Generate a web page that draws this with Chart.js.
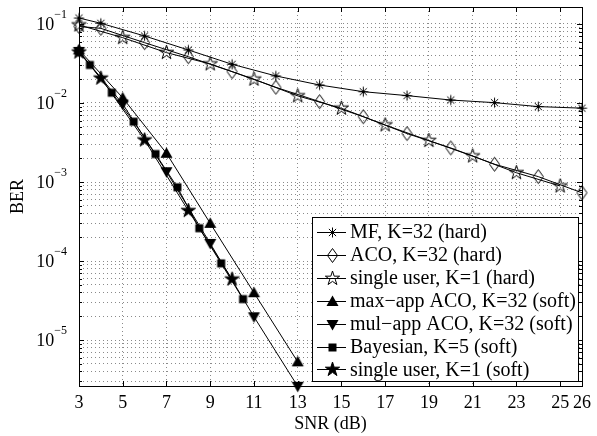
<!DOCTYPE html>
<html><head><meta charset="utf-8">
<script src="https://cdn.jsdelivr.net/npm/chart.js@4/dist/chart.umd.min.js"></script>
<style>html,body{margin:0;padding:0;background:#fff}#wrap{width:597px;height:436px}</style>
</head><body><div id="wrap"><canvas id="c" width="597" height="436"></canvas></div>
<script>
// ---- data ----
const xTicks = [3,5,7,9,11,13,15,17,19,21,23,25,26];
const yDecades = [-5,-4,-3,-2,-1];

const mfSnr = [3,4,6,8,10,12,14,16,18,20,22,24,26];
const mfBer = [0.119,0.102,0.0705,0.0469,0.0309,0.0220,0.0169,0.0139,0.0124,0.0109,0.0101,0.0090,0.0086];

const acoSnr = [3,4,6,8,10,12,14,16,18,20,22,24,26];
const acoBer = [0.093,0.088,0.058,0.0385,0.0249,0.0158,0.0104,0.0067,0.0041,0.0027,0.00168,0.00117,0.00073];

const suHardSnr = [3,5,7,9,11,13,15,17,19,21,23,25];
const suHardBer = [0.097,0.0671,0.0434,0.0312,0.0200,0.0123,0.00857,0.00527,0.00334,0.00213,0.00131,0.00089];

const maxAppSnr = [3,5,7,9,11,13];
const maxAppBer = [0.047,0.0116,0.00231,0.00030,3.97e-5,5.3e-6];

const mulAppSnr = [3,5,7,9,11,13];
const mulAppBer = [0.045,0.0097,0.00135,1.67e-4,1.97e-5,2.6e-6];

const bayesSnr = [3,3.5,4.5,5.5,6.5,7.5,8.5,9.5,10.5];
const bayesBer = [0.045,0.0303,0.0135,0.0058,0.00226,8.57e-4,2.6e-4,9.35e-5,3.3e-5];

const suSoftSnr = [3,4,6,8,10];
const suSoftBer = [0.044,0.0206,0.0034,4.34e-4,5.9e-5];

const seriesLabels = [
  'MF, K=32 (hard)',
  'ACO, K=32 (hard)',
  'single user, K=1 (hard)',
  'max\u2212app ACO, K=32 (soft)',
  'mul\u2212app ACO, K=32 (soft)',
  'Bayesian, K=5 (soft)',
  'single user, K=1 (soft)'
];

// ---- marker glyphs ----
function makeMarker(kind) {
  const s = 17, c = 8.5;
  const cv = document.createElement('canvas');
  cv.width = s; cv.height = s;
  const g = cv.getContext('2d');
  g.translate(c, c);
  g.strokeStyle = '#000'; g.fillStyle = '#000'; g.lineWidth = 1;
  g.beginPath();
  const star = (R) => {
    for (let i = 0; i < 10; i++) {
      const a = -Math.PI / 2 + i * Math.PI / 5;
      const r = i % 2 === 0 ? R : R * 0.382;
      const px = r * Math.cos(a), py = r * Math.sin(a);
      if (i === 0) g.moveTo(px, py); else g.lineTo(px, py);
    }
    g.closePath();
  };
  switch (kind) {
    case 'asterisk':
      g.moveTo(-5, 0); g.lineTo(5, 0);
      g.moveTo(0, -5); g.lineTo(0, 5);
      g.moveTo(-3.6, -3.6); g.lineTo(3.6, 3.6);
      g.moveTo(-3.6, 3.6); g.lineTo(3.6, -3.6);
      g.stroke(); break;
    case 'diamond':
      g.moveTo(0, -7); g.lineTo(5, 0); g.lineTo(0, 7); g.lineTo(-5, 0); g.closePath();
      g.stroke(); break;
    case 'pentagram':
      star(7.5); g.stroke(); break;
    case 'pentagramFilled':
      star(7.5); g.fill(); g.stroke(); break;
    case 'triUp':
      g.moveTo(0, -6); g.lineTo(6, 4.5); g.lineTo(-6, 4.5); g.closePath(); g.fill(); break;
    case 'triDown':
      g.moveTo(0, 6); g.lineTo(6, -4.5); g.lineTo(-6, -4.5); g.closePath(); g.fill(); break;
    case 'square':
      g.rect(-4, -4, 8, 8); g.fill(); break;
  }
  return cv;
}

const seriesDefs = [
  [mfSnr, mfBer, 'asterisk'],
  [acoSnr, acoBer, 'diamond'],
  [suHardSnr, suHardBer, 'pentagram'],
  [maxAppSnr, maxAppBer, 'triUp'],
  [mulAppSnr, mulAppBer, 'triDown'],
  [bayesSnr, bayesBer, 'square'],
  [suSoftSnr, suSoftBer, 'pentagramFilled']
];

const datasets = seriesDefs.map((d, i) => ({
  label: seriesLabels[i],
  data: d[0].map((v, j) => ({ x: v, y: d[1][j] })),
  borderColor: '#000',
  borderWidth: 1,
  pointStyle: makeMarker(d[2]),
  pointRadius: 6,
  pointBackgroundColor: '#000',
  pointBorderColor: '#000',
  tension: 0,
  fill: false,
  clip: false
}));

const FONT = '"Liberation Serif", "Times New Roman", serif';

// frame + inward ticks
const framePlugin = {
  id: 'frame',
  afterDatasetsDraw(chart) {
    const { ctx, chartArea: a, scales: { x, y } } = chart;
    const L = Math.round(a.left), R = Math.round(a.right), T = Math.round(a.top), B = Math.round(a.bottom);
    ctx.save();
    ctx.strokeStyle = '#000'; ctx.lineWidth = 1;
    ctx.beginPath();
    xTicks.forEach(v => {
      const px = Math.round(x.getPixelForValue(v)) + 0.5;
      ctx.moveTo(px, B); ctx.lineTo(px, B - 5);
      ctx.moveTo(px, T); ctx.lineTo(px, T + 5);
    });
    y.ticks.forEach(t => {
      const py = Math.round(y.getPixelForValue(t.value)) + 0.5;
      const m = Math.round(t.value / Math.pow(10, Math.floor(Math.log10(t.value) + 1e-9)));
      const len = m === 1 ? 5 : 3;
      ctx.moveTo(L, py); ctx.lineTo(L + len, py);
      ctx.moveTo(R, py); ctx.lineTo(R - len, py);
    });
    ctx.stroke();
    ctx.strokeRect(L + 0.5, T + 0.5, R - L, B - T);
    ctx.restore();
  }
};

// y tick labels with superscript exponents
const yLabelPlugin = {
  id: 'ylabels',
  afterDraw(chart) {
    const { ctx, chartArea: a, scales: { y } } = chart;
    ctx.save();
    ctx.fillStyle = '#000';
    ctx.textBaseline = 'alphabetic';
    ctx.textAlign = 'left';
    yDecades.forEach(e => {
      const py = y.getPixelForValue(Math.pow(10, e));
      const sup = '\u2212' + Math.abs(e);
      ctx.font = '12px ' + FONT;
      const w2 = ctx.measureText(sup).width;
      ctx.font = '18px ' + FONT;
      const w1 = ctx.measureText('10').width;
      const right = a.left - 12;
      ctx.fillText('10', right - w2 - w1, py + 6);
      ctx.font = '12px ' + FONT;
      ctx.fillText(sup, right - w2, py - 6);
    });
    ctx.restore();
  }
};

// boxed legend inside the plot
const legendPlugin = {
  id: 'boxLegend',
  afterDraw(chart) {
    const { ctx, chartArea: a } = chart;
    const R = Math.round(a.right) - 4, B = Math.round(a.bottom) - 5;
    const W = 266, rowH = 22.9;
    const n = chart.data.datasets.length;
    const H = Math.round(rowH * n + 4);
    const L = R - W, T = B - H;
    ctx.save();
    ctx.fillStyle = '#fff';
    ctx.fillRect(L, T, W, H);
    ctx.strokeStyle = '#000'; ctx.lineWidth = 1;
    ctx.strokeRect(L + 0.5, T + 0.5, W, H);
    ctx.font = '20px ' + FONT;
    ctx.textBaseline = 'middle';
    ctx.textAlign = 'left';
    chart.data.datasets.forEach((ds, i) => {
      const cy = T + 15 + i * rowH;
      const ly = Math.round(cy) + 0.5;
      ctx.beginPath(); ctx.moveTo(L + 5, ly); ctx.lineTo(L + 34, ly); ctx.stroke();
      const img = ds.pointStyle;
      ctx.drawImage(img, L + 20 - img.width / 2 + 0.5, ly - img.height / 2);
      ctx.fillStyle = '#000';
      ctx.fillText(ds.label, L + 38, cy + 1);
    });
    ctx.restore();
  }
};

const chart = new Chart(document.getElementById('c').getContext('2d'), {
  type: 'line',
  data: { datasets },
  options: {
    responsive: false,
    animation: false,
    events: [],
    layout: { padding: { top: 7, right: 10, left: 0, bottom: 0 } },
    plugins: { legend: { display: false }, tooltip: { enabled: false } },
    scales: {
      x: {
        type: 'linear', min: 3, max: 26,
        afterBuildTicks: s => { s.ticks = xTicks.map(v => ({ value: v })); },
        afterFit: s => { s.height = 50; },
        ticks: { autoSkip: false, maxRotation: 0, color: '#000', padding: 6,
                 font: { family: FONT, size: 18 }, callback: v => String(v) },
        grid: { color: '#8a8a8a', lineWidth: 1, drawTicks: false },
        border: { display: false, dash: [1, 3] },
        title: { display: true, text: 'SNR (dB)', color: '#000',
                 font: { family: FONT, size: 18 }, padding: { top: 0, bottom: 1 } }
      },
      y: {
        type: 'logarithmic', min: 2.62e-6, max: 0.164,
        afterBuildTicks: s => {
          const t = [];
          for (let e = -6; e <= -1; e++) for (let m = 1; m <= 9; m++) {
            const v = m * Math.pow(10, e);
            if (v >= s.min && v <= s.max) t.push({ value: v });
          }
          s.ticks = t;
        },
        afterFit: s => { s.width = 79; },
        ticks: { display: false },
        grid: { color: '#8a8a8a', lineWidth: 1, drawTicks: false },
        border: { display: false, dash: [1, 3] },
        title: { display: true, text: 'BER', color: '#000',
                 font: { family: FONT, size: 18 }, padding: { top: 7, bottom: 0 } }
      }
    }
  },
  plugins: [framePlugin, yLabelPlugin, legendPlugin]
});
</script></body></html>
